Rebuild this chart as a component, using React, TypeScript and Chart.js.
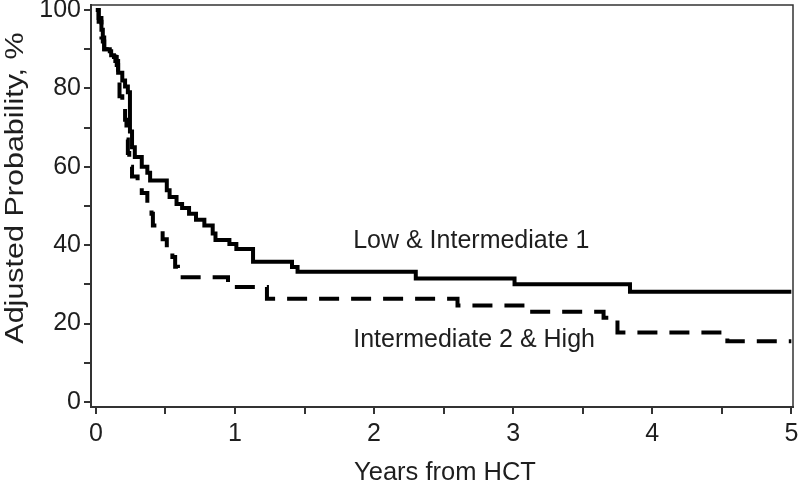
import React, { useEffect, useRef } from "react";
import { Chart, registerables } from "chart.js";

Chart.register(...registerables);

// Years from HCT / adjusted probability (%) – Low & Intermediate 1
const lowYears = [0, 0.02, 0.04, 0.05, 0.06, 0.1, 0.11, 0.13, 0.15, 0.16, 0.19, 0.21, 0.23, 0.245, 0.26, 0.28, 0.33, 0.37, 0.39, 0.51, 0.53, 0.58, 0.62, 0.67, 0.72, 0.78, 0.84, 0.86, 0.96, 1.01, 1.13, 1.41, 1.45, 2.3, 3.01, 3.84, 5];
const lowProb = [100, 98, 95, 92, 90, 89.5, 88.5, 88, 86, 84, 82, 80.5, 79, 69, 65, 62.5, 60, 58.5, 56.5, 54, 52.3, 50.5, 49.5, 48, 46.5, 45, 43, 41.3, 40.3, 39, 35.8, 34.4, 33.2, 31.5, 30, 28.1, 28.1];

// Intermediate 2 & High
const highYears = [0, 0.02, 0.04, 0.06, 0.1, 0.14, 0.16, 0.17, 0.19, 0.21, 0.22, 0.23, 0.24, 0.26, 0.3, 0.33, 0.37, 0.4, 0.41, 0.48, 0.51, 0.55, 0.57, 0.59, 0.95, 1.23, 2.6, 3.11, 3.65, 3.75, 4.54, 5];
const highProb = [100, 97, 93, 90, 89.5, 87, 83, 78, 75, 72, 67, 63.5, 60, 57.5, 55, 53.3, 50.3, 48, 45, 41.5, 38.8, 37, 34.5, 31.8, 29.3, 26.3, 24.6, 23, 21.5, 17.7, 15.5, 15.5];

const seriesNames = ["Low & Intermediate 1", "Intermediate 2 & High"];
const seriesLabelX = [1.85, 1.85];
const seriesLabelY = [39.3, 14];

const xTicks = [0, 0.5, 1, 1.5, 2, 2.5, 3, 3.5, 4, 4.5, 5];
const yTicks = [0, 10, 20, 30, 40, 50, 60, 70, 80, 90, 100];
const xTitle = "Years from HCT";
const yTitle = "Adjusted Probability, %";

const FONT = "'Liberation Sans', Arial, sans-serif";
const TEXT = "#1e1e1e";
const AXIS = "#333333";

export default function App() {
  const ref = useRef<HTMLCanvasElement | null>(null);

  useEffect(() => {
    if (!ref.current) return;
    const textPlugin = {
      id: "texts",
      afterDraw(chart: any) {
        const { ctx, chartArea, scales } = chart;
        ctx.save();
        // frame top and right
        ctx.strokeStyle = AXIS;
        ctx.lineWidth = 1.5;
        ctx.beginPath();
        ctx.moveTo(chartArea.left, chartArea.top);
        ctx.lineTo(chartArea.right, chartArea.top);
        ctx.lineTo(chartArea.right, chartArea.bottom);
        ctx.stroke();
        ctx.fillStyle = TEXT;
        // series labels
        ctx.font = `25px ${FONT}`;
        ctx.textAlign = "left";
        ctx.textBaseline = "alphabetic";
        seriesNames.forEach((n, i) => {
          ctx.fillText(n, scales.x.getPixelForValue(seriesLabelX[i]), scales.y.getPixelForValue(seriesLabelY[i]));
        });
        // x title
        ctx.font = `25.5px ${FONT}`;
        ctx.textAlign = "center";
        ctx.fillText(xTitle, 445, 480);
        // y title
        ctx.translate(23, 188);
        ctx.rotate(-Math.PI / 2);
        ctx.scale(1.22, 1);
        ctx.font = `25px ${FONT}`;
        ctx.fillText(yTitle, 0, 0);
        ctx.restore();
      },
    };

    const chart = new Chart(ref.current, {
      type: "line",
      data: {
        datasets: [
          {
            label: seriesNames[0],
            data: lowYears.map((x, i) => ({ x, y: lowProb[i] })),
            borderColor: "#000",
            borderWidth: 4,
            pointRadius: 0,
            stepped: true,
            fill: false,
          },
          {
            label: seriesNames[1],
            data: highYears.map((x, i) => ({ x, y: highProb[i] })),
            borderColor: "#000",
            borderWidth: 4,
            borderDash: [20, 12],
            pointRadius: 0,
            stepped: true,
            fill: false,
          },
        ],
      },
      options: {
        responsive: false,
        animation: false,
        events: [],
        layout: { padding: { top: 5, right: 7, left: 0, bottom: 0 } },
        plugins: { legend: { display: false }, tooltip: { enabled: false } },
        scales: {
          x: {
            type: "linear",
            min: -0.035,
            max: 5.012,
            afterBuildTicks: (s: any) => {
              s.ticks = xTicks.map((v) => ({ value: v }));
            },
            afterFit: (s: any) => {
              s.height = 80;
              s.paddingLeft = 0;
              s.paddingRight = 0;
            },
            ticks: {
              autoSkip: false,
              maxRotation: 0,
              padding: 5,
              color: TEXT,
              font: { family: FONT, size: 25 },
              callback: (v: any) => (Number.isInteger(v) ? String(v) : ""),
            },
            grid: { drawOnChartArea: false, drawTicks: true, tickLength: 7, color: AXIS, lineWidth: 2 },
            border: { display: true, color: AXIS, width: 2 },
          },
          y: {
            type: "linear",
            min: -1.3,
            max: 101.3,
            afterBuildTicks: (s: any) => {
              s.ticks = yTicks.map((v) => ({ value: v }));
            },
            afterFit: (s: any) => {
              s.width = 91;
              s.paddingTop = 0;
              s.paddingBottom = 0;
            },
            ticks: {
              autoSkip: false,
              padding: 3,
              color: TEXT,
              font: { family: FONT, size: 25 },
              callback: (v: any) => (v % 20 === 0 ? String(v) : ""),
            },
            grid: { drawOnChartArea: false, drawTicks: true, tickLength: 7, color: AXIS, lineWidth: 2 },
            border: { display: true, color: AXIS, width: 2 },
          },
        },
      },
      plugins: [textPlugin],
    });
    return () => chart.destroy();
  }, []);

  return (
    <div style={{ position: "absolute", left: 0, top: 0, width: 800, height: 487, background: "#fff" }}>
      <canvas ref={ref} width={800} height={487} />
    </div>
  );
}
